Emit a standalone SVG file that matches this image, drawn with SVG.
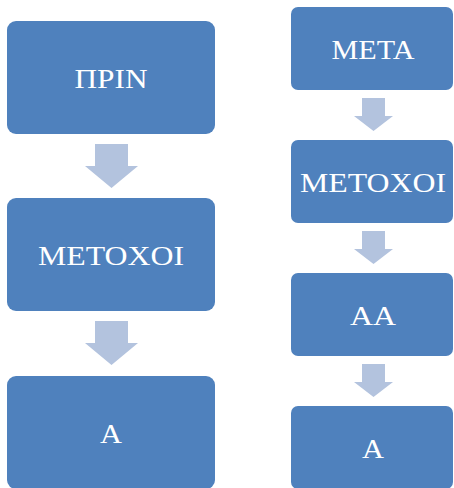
<svg xmlns="http://www.w3.org/2000/svg" width="454" height="488" viewBox="0 0 454 488">
  <style>
    .box { fill: #4F81BD; }
    .arrow { fill: #B3C3DE; }
    .label { fill: #FFFFFF; font-family: "Liberation Serif", "DejaVu Serif", "Times New Roman", serif; font-size: 28px; text-anchor: middle; }
  </style>
  <rect width="454" height="488" fill="#FFFFFF"/>

  <!-- left column -->
  <g id="prin">
    <rect class="box" x="7" y="21" width="208" height="113" rx="9"/>
    <text class="label" x="111" y="88" textLength="73" lengthAdjust="spacingAndGlyphs">ΠΡΙΝ</text>
  </g>
  <g id="metochoi-left">
    <rect class="box" x="7" y="198" width="208" height="113" rx="9"/>
    <text class="label" x="111" y="265" textLength="146" lengthAdjust="spacingAndGlyphs">ΜΕΤΟΧΟΙ</text>
  </g>
  <g id="a-left">
    <rect class="box" x="7" y="376" width="208" height="113" rx="9"/>
    <text class="label" x="111" y="443" textLength="22" lengthAdjust="spacingAndGlyphs">Α</text>
  </g>

  <!-- right column -->
  <g id="meta">
    <rect class="box" x="291" y="7" width="162" height="83" rx="7"/>
    <text class="label" x="373" y="59" textLength="83" lengthAdjust="spacingAndGlyphs">ΜΕΤΑ</text>
  </g>
  <g id="metochoi-right">
    <rect class="box" x="291" y="140" width="162" height="83" rx="7"/>
    <text class="label" x="373" y="192" textLength="146" lengthAdjust="spacingAndGlyphs">ΜΕΤΟΧΟΙ</text>
  </g>
  <g id="aa">
    <rect class="box" x="291" y="273" width="162" height="83" rx="7"/>
    <text class="label" x="373" y="325" textLength="46" lengthAdjust="spacingAndGlyphs">ΑΑ</text>
  </g>
  <g id="a-right">
    <rect class="box" x="291" y="406" width="162" height="83" rx="7"/>
    <text class="label" x="373" y="458" textLength="22" lengthAdjust="spacingAndGlyphs">Α</text>
  </g>

  <!-- block arrows between steps -->
  <g id="connectors">
    <polygon class="arrow" points="95,144 128,144 128,166 138,166 111.5,188 85,166 95,166"/>
    <polygon class="arrow" points="95,321 128,321 128,343 138,343 111.5,365 85,343 95,343"/>
    <polygon class="arrow" points="362,98 385,98 385,116 393,116 373.5,131 354,116 362,116"/>
    <polygon class="arrow" points="362,231 385,231 385,249 393,249 373.5,264 354,249 362,249"/>
    <polygon class="arrow" points="362,364 385,364 385,382 393,382 373.5,397 354,382 362,382"/>
  </g>
</svg>
